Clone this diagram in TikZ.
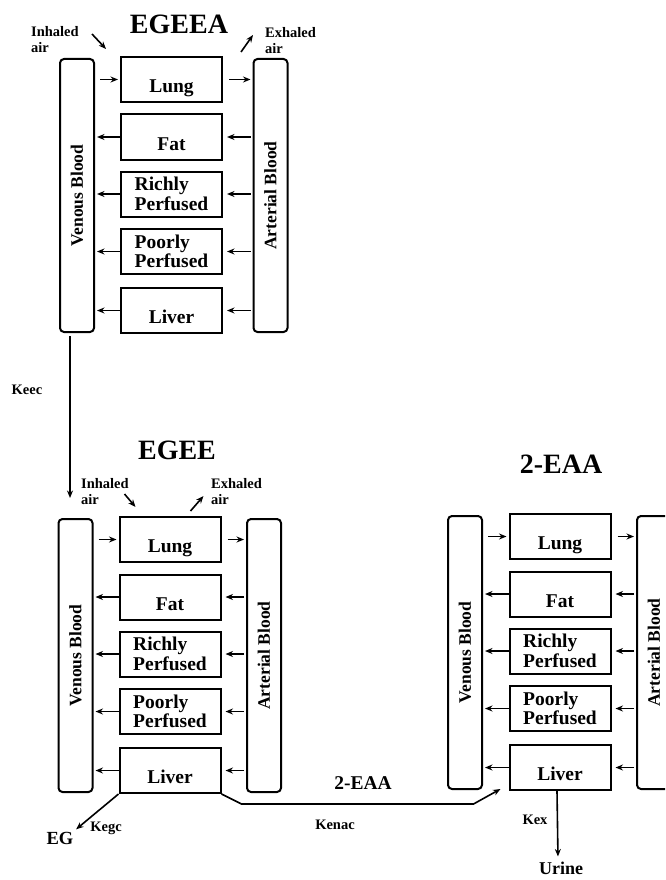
\documentclass[tikz,border=0pt]{standalone}
\usepackage{fontspec}
\setmainfont{Liberation Serif}
\usetikzlibrary{arrows.meta, positioning, calc}

\tikzset{
  organ/.style={draw, line width=2pt, minimum width=101pt, minimum height=45pt, inner sep=0pt,
    align=left, font=\fontsize{19.5}{19.5}\selectfont\bfseries},
  oneline/.style={text height=26pt, text depth=0pt},
  blood/.style={draw, line width=2pt, rounded corners=4pt, minimum width=34pt, minimum height=273pt, inner sep=0pt},
  bloodtext/.style={rotate=90, inner sep=0pt, font=\fontsize{17.5}{18}\selectfont\bfseries},
  flow/.style={line width=1.6pt, -{Stealth[length=7.5pt,width=6pt]}},
  tag/.style={inner sep=0pt, align=left, font=\fontsize{14.5}{16}\selectfont\bfseries},
  heading/.style={inner sep=0pt, font=\fontsize{28}{28}\selectfont\bfseries},
}

\begin{document}
\begin{tikzpicture}[x=1pt, y=-1pt]
  \clip (0,0) rectangle (665,880);

  % the three compartment models
  \foreach \b/\vx/\bx/\ax/\ty in {a/77/171.5/270.5/56, b/75.5/170/264/516, c/465/560/654/513} {
    \node[blood, anchor=north, label={[bloodtext]center:Venous Blood}] (\b-ven) at (\vx,\ty+2) {};
    \node[blood, anchor=north, label={[bloodtext]center:Arterial Blood}] (\b-art) at (\ax,\ty+2) {};
    \node[organ, oneline, anchor=north] (\b-lung) at (\bx,\ty) {Lung};
    \node[organ, oneline, anchor=north] (\b-fat) at (\bx,\ty+57.5) {Fat};
    \node[organ, anchor=north] (\b-rich) at (\bx,\ty+114.5) {Richly\\Perfused};
    \node[organ, anchor=north] (\b-poor) at (\bx,\ty+172) {Poorly\\Perfused};
    \node[organ, oneline, anchor=north] (\b-liver) at (\bx,\ty+231) {Liver};
    \draw[flow, shorten <=5pt, shorten >=2pt] (\b-ven.east |- \b-lung.west) -- (\b-lung.west);
    \draw[flow, shorten <=6pt, shorten >=2pt] (\b-lung.east) -- (\b-art.west |- \b-lung.east);
    \foreach \o in {fat, rich, poor, liver} {
      \draw[flow, shorten <=2pt, shorten >=4pt] (\b-art.west |- \b-\o.east) -- (\b-\o.east);
      \draw[flow, shorten >=2pt] (\b-\o.west) -- (\b-ven.east |- \b-\o.west);
    }
  }

  \node[heading] (egeea) at (179,24) {EGEEA};
  \node[heading] (egee) at (177,450) {EGEE};
  \node[heading] (eaa) at (561,464) {2-EAA};

  % air in and out
  \node[tag, anchor=north west] (a-in) at (31,26) {Inhaled\\air};
  \node[tag, anchor=north west] (a-out) at (265,27) {Exhaled\\air};
  \draw[flow] ([shift={(-28,-22)}]a-lung.north west) -- ([shift={(-14,-7)}]a-lung.north west);
  \draw[flow] ([shift={(18,-4)}]a-lung.north east) -- ([shift={(30,-21)}]a-lung.north east);
  \node[tag, anchor=north west] (b-in) at (81,478) {Inhaled\\air};
  \node[tag, anchor=north west] (b-out) at (211,478) {Exhaled\\air};
  \draw[flow] ([shift={(6,-22)}]b-lung.north west) -- ([shift={(17,-9)}]b-lung.north west);
  \draw[flow] ([shift={(-31,-5)}]b-lung.north east) -- ([shift={(-18,-20)}]b-lung.north east);

  % metabolism
  \coordinate (keecend) at (70,498);
  \draw[flow, shorten <=3pt] (a-ven.south -| keecend) -- (keecend);
  \node[tag] (keec) at (27,390) {Keec};

  \node[inner sep=1pt, font=\fontsize{18.5}{18.5}\selectfont\bfseries] (eg) at (60,838) {EG};
  \draw[flow, shorten >=2pt] (b-liver.south west) -- (eg.north east);
  \node[tag] (kegc) at (106,828) {Kegc};

  \coordinate (kbend) at ([xshift=-35pt]c-liver.south west);
  \draw[flow] (b-liver.south east) -- ++(20,10) coordinate (kturn) -- (kturn -| kbend)
    -- ([shift={(-8,-2)}]c-liver.south west);
  \node[inner sep=0pt, font=\fontsize{19.5}{19.5}\selectfont\bfseries] (eaa-mid) at (363,783) {2-EAA};
  \node[tag] (kenac) at (335,825) {Kenac};

  \node[inner sep=2pt, font=\fontsize{18}{18}\selectfont\bfseries] (urine) at (561,868) {Urine};
  \draw[flow, shorten >=3pt] ([xshift=-3pt]c-liver.south) -- ([xshift=-3pt]urine.north);
  \node[tag] (kex) at (535,820) {Kex};
\end{tikzpicture}
\end{document}
